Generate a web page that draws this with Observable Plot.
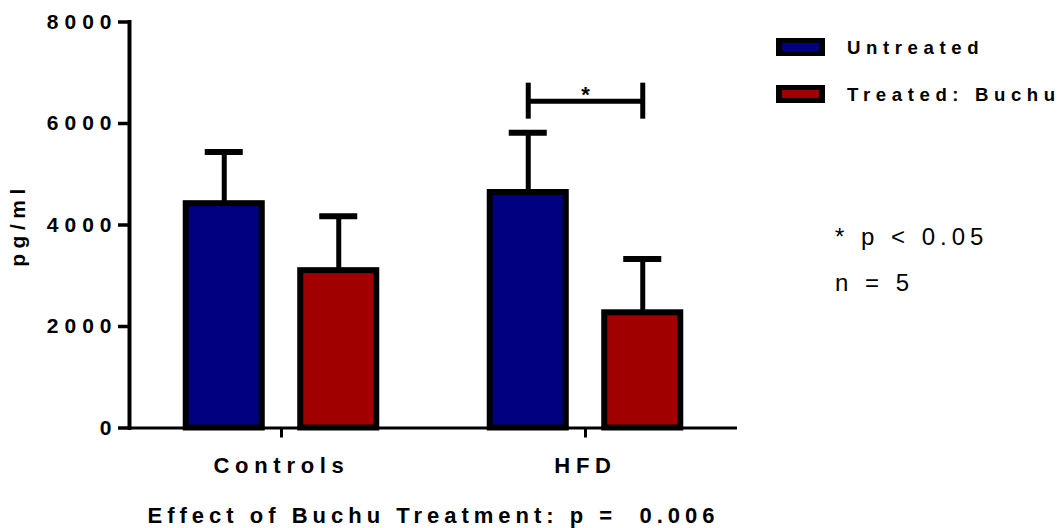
<!DOCTYPE html>
<html>
<head>
<meta charset="utf-8">
<script src="https://cdn.jsdelivr.net/npm/d3@7"></script>
<script src="https://cdn.jsdelivr.net/npm/@observablehq/plot@0.6"></script>
<style>
  body { margin: 0; background: #fff; }
  #wrap { position: relative; width: 1063px; height: 528px; overflow: hidden;
          font-family: "Liberation Sans", Arial, Helvetica, sans-serif; color: #000; }
  #wrap svg { display: block; }
  #wrap svg g[aria-label="y-axis tick label"] { letter-spacing: 6px; }
  #wrap svg g[aria-label="fx-axis tick label"] { letter-spacing: 5.7px; }
  #wrap svg g[aria-label="y-axis label"] { letter-spacing: 5.5px; }
  #wrap svg g[aria-label="fx-axis label"] { letter-spacing: 5px; }
  .legend { position: absolute; left: 776px; top: 38px; }
  .legend .row { display: flex; align-items: center; height: 18px; margin-bottom: 29px; }
  .legend .sw { box-sizing: border-box; width: 49px; height: 18px; border-style: solid;
                border-color: #000; border-width: 5px 6px; }
  .legend .lab { margin-left: 22px; font-weight: bold; font-size: 18.6px; line-height: 18px;
                 letter-spacing: 5.6px; white-space: nowrap; position: relative; top: 1px; }
  .notes { position: absolute; left: 835px; top: 214px; font-size: 24px; line-height: 46px;
           letter-spacing: 5px; white-space: pre; }
</style>
</head>
<body>
<div id="wrap"></div>
<script>
// Group means and SEM (pg/ml) for each diet group and treatment
const groups = ["Controls", "Controls", "HFD", "HFD"];
const treatments = ["Untreated", "Treated: Buchu", "Untreated", "Treated: Buchu"];
const meanValues = [4420, 3100, 4640, 2270];
const semValues = [1020, 1070, 1180, 1060];

const groupOrder = ["Controls", "HFD"];
const seriesOrder = ["Untreated", "Treated: Buchu"];
const seriesColors = ["#000080", "#a00000"];
const yTicks = [0, 2000, 4000, 6000, 8000];

const yTitle = "pg/ml";
const xTitle = "Effect of Buchu Treatment: p =  0.006";
const notes = ["* p < 0.05", "n = 5"];

// Significance bracket between the two HFD bars
const sigGroup = "HFD";
const sigFrom = "Untreated";
const sigTo = "Treated: Buchu";
const sigLevel = 6440;
const sigText = "*";

const rows = groups.map((g, i) => ({
  group: g, treatment: treatments[i], mean: meanValues[i], sem: semValues[i]
}));
const bracket = [{group: sigGroup, from: sigFrom, to: sigTo, y: sigLevel, text: sigText}];
const bracketEnds = [sigFrom, sigTo].map(t => ({group: sigGroup, treatment: t, y: sigLevel}));

const chart = Plot.plot({
  width: 1063,
  height: 528,
  marginLeft: 129,
  marginRight: 326,
  marginTop: 21.5,
  marginBottom: 100.5,
  style: {fontFamily: "'Liberation Sans', Arial, Helvetica, sans-serif", color: "#000", background: "#fff"},
  fx: {domain: groupOrder, padding: 0, round: false},
  x: {domain: seriesOrder, paddingInner: 0.336, paddingOuter: 0.4955, round: false, axis: null},
  y: {domain: [0, 8000]},
  color: {domain: seriesOrder, range: seriesColors},
  marks: [
    // error bars (upper half only)
    Plot.ruleX(rows, {fx: "group", x: "treatment", y1: "mean", y2: d => d.mean + d.sem,
                      stroke: "#000", strokeWidth: 5}),
    Plot.tickY(rows, {fx: "group", x: "treatment", y: d => d.mean + d.sem,
                      stroke: "#000", strokeWidth: 6, insetLeft: 19, insetRight: 19}),
    // bars
    Plot.barY(rows, {fx: "group", x: "treatment", y: "mean", fill: "treatment",
                     stroke: "#000", strokeWidth: 6}),
    // x baseline
    Plot.ruleY([0], {stroke: "#000", strokeWidth: 3}),
    // y axis line
    Plot.frame({anchor: "left", facet: "super", stroke: "#000", strokeWidth: 4}),
    Plot.axisY({ticks: yTicks, tickSize: 11, tickPadding: 1, strokeWidth: 3.5,
                fontSize: 21, fontWeight: "bold", tickFormat: d => String(d),
                label: yTitle, labelAnchor: "center", labelOffset: 119, labelArrow: "none"}),
    Plot.axisFx({anchor: "bottom", tickSize: 10, tickPadding: 19, strokeWidth: 3,
                 fontSize: 22, fontWeight: "bold",
                 label: xTitle, labelAnchor: "center", labelOffset: 95, labelArrow: "none"}),
    // significance bracket
    Plot.ruleY(bracket, {fx: "group", x1: "from", x2: "to", y: "y", stroke: "#000",
                         strokeWidth: 5, insetLeft: 38, insetRight: 38}),
    Plot.ruleX(bracketEnds, {fx: "group", x: "treatment", y1: "y", y2: "y", stroke: "#000",
                             strokeWidth: 5, insetTop: 18, insetBottom: 18}),
    Plot.text(bracket, {fx: "group", y: "y", text: "text", dy: -6, fontSize: 22, fontWeight: "bold"})
  ]
});

const wrap = document.getElementById("wrap");
wrap.appendChild(chart);

// legend on the right
const legend = document.createElement("div");
legend.className = "legend";
seriesOrder.forEach((name, i) => {
  const row = document.createElement("div");
  row.className = "row";
  const sw = document.createElement("span");
  sw.className = "sw";
  sw.style.background = seriesColors[i];
  const lab = document.createElement("span");
  lab.className = "lab";
  lab.textContent = name;
  row.append(sw, lab);
  legend.appendChild(row);
});
wrap.appendChild(legend);

// statistics notes
const noteBox = document.createElement("div");
noteBox.className = "notes";
noteBox.textContent = notes.join("\n");
wrap.appendChild(noteBox);
</script>
</body>
</html>
